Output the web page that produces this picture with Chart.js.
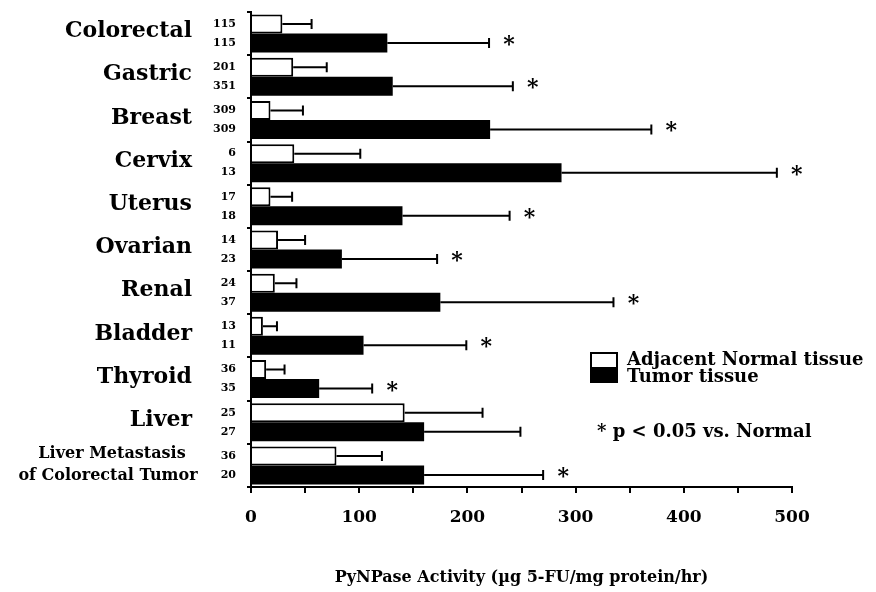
<!DOCTYPE html>
<html>
<head>
<meta charset="utf-8">
<script src="https://cdn.jsdelivr.net/npm/chart.js@4/dist/chart.umd.min.js"></script>
<style>
  html, body { margin: 0; padding: 0; background: #fff; }
  canvas { display: block; }
</style>
</head>
<body>
<canvas id="chartPynpase" width="876" height="592"></canvas>
<script>

// categorias (tipos de tecido)
var categories = [
    'Colorectal', 'Gastric', 'Breast', 'Cervix', 'Uterus', 'Ovarian',
    'Renal', 'Bladder', 'Thyroid', 'Liver',
    ['Liver Metastasis', 'of Colorectal Tumor']
];

// médias e desvios
var normalMean = [29, 39, 18, 40, 18, 25, 22, 11, 14, 142, 79];
var normalSD   = [27, 31, 30, 61, 20, 25, 20, 13, 17, 72, 42];
var tumorMean  = [126, 131, 221, 287, 140, 84, 175, 104, 63, 160, 160];
var tumorSD    = [94, 111, 149, 199, 99, 88, 160, 95, 49, 89, 110];

// número de amostras
var normalN = ['115', '201', '309', '6', '17', '14', '24', '13', '36', '25', '36'];
var tumorN  = ['115', '351', '309', '13', '18', '23', '37', '11', '35', '27', '20'];

// p < 0.05 vs. Normal
var significant = [true, true, true, true, true, true, true, true, true, false, true];

var xMin = 0, xMax = 500, xStep = 50;

var SERIF = '"DejaVu Serif", "Liberation Serif", serif';


// desenha barras de erro, asteriscos, rótulos e legenda
var extras = {
    id: 'extras',
    afterDatasetsDraw: function(chart){
        var ctx = chart.ctx, xs = chart.scales.x, ys = chart.scales.y;
        ctx.save();
        ctx.strokeStyle = '#000';
        ctx.fillStyle = '#000';
        ctx.lineWidth = 2;

        chart.data.datasets.forEach(function(ds, di){
            var meta = chart.getDatasetMeta(di);
            meta.data.forEach(function(bar, i){
                var x1 = xs.getPixelForValue(ds.data[i] + ds.sd[i]);
                ctx.beginPath();
                ctx.moveTo(bar.x, bar.y);
                ctx.lineTo(x1, bar.y);
                ctx.moveTo(x1, bar.y - 5);
                ctx.lineTo(x1, bar.y + 5);
                ctx.stroke();

                if (di === 1 && significant[i]) {
                    ctx.font = 'bold 22px ' + SERIF;
                    ctx.textAlign = 'center';
                    ctx.textBaseline = 'alphabetic';
                    ctx.fillText('*', x1 + 20, bar.y + 8);
                }

                // n
                ctx.font = 'bold 11px ' + SERIF;
                ctx.textAlign = 'right';
                ctx.textBaseline = 'middle';
                ctx.fillText(ds.n[i], 236, bar.y);
            });
        });

        // nomes das categorias
        categories.forEach(function(c, i){
            var y = ys.getPixelForValue(i);
            ctx.textBaseline = 'middle';
            if (Array.isArray(c)) {
                ctx.font = 'bold 16px ' + SERIF;
                ctx.textAlign = 'center';
                ctx.fillText(c[0], 112, y - 12);
                ctx.fillText(c[1], 108, y + 10);
            } else {
                ctx.font = 'bold 22px ' + SERIF;
                ctx.textAlign = 'right';
                ctx.fillText(c, 192, y - 2);
            }
        });

        // legenda
        ctx.lineWidth = 2;
        ctx.strokeRect(591, 353, 26, 15);
        ctx.fillRect(590, 368, 28, 15);
        ctx.font = 'bold 18px ' + SERIF;
        ctx.textAlign = 'left';
        ctx.textBaseline = 'middle';
        ctx.fillText(chart.data.datasets[0].label, 627, 360);
        ctx.fillText(chart.data.datasets[1].label, 627, 377);
        ctx.fillText('* p < 0.05 vs. Normal', 597, 432);

        ctx.restore();
    }
};


var ctx = document.getElementById('chartPynpase').getContext('2d');
var chart = new Chart(ctx, {
    type: 'bar',
    data: {
        labels: categories,
        datasets: [
            {
                label: 'Adjacent Normal tissue',
                data: normalMean,
                sd: normalSD,
                n: normalN,
                backgroundColor: '#fff',
                borderColor: '#000',
                borderWidth: 2,
                categoryPercentage: 0.88,
                barPercentage: 1.0
            },
            {
                label: 'Tumor tissue',
                data: tumorMean,
                sd: tumorSD,
                n: tumorN,
                backgroundColor: '#000',
                borderColor: '#000',
                borderWidth: 0,
                categoryPercentage: 0.88,
                barPercentage: 1.0
            }
        ]
    },
    options: {
        indexAxis: 'y',
        responsive: false,
        animation: false,
        devicePixelRatio: 1,
        layout: { padding: { top: 12, right: 84, bottom: 0, left: 0 } },
        plugins: {
            legend: { display: false },
            tooltip: { enabled: false }
        },
        scales: {
            x: {
                min: xMin,
                max: xMax,
                ticks: {
                    stepSize: xStep,
                    color: '#000',
                    padding: 14,
                    font: { family: SERIF, size: 17, weight: 'bold' },
                    callback: function(v){ return v % 100 === 0 ? v : ''; }
                },
                grid: { drawOnChartArea: false, tickLength: 6, color: '#000', lineWidth: 2 },
                border: { color: '#000', width: 2 },
                title: {
                    display: true,
                    text: 'PyNPase Activity (µg 5-FU/mg protein/hr)',
                    color: '#000',
                    font: { family: SERIF, size: 16, weight: 'bold' },
                    padding: { top: 0, bottom: 5 }
                },
                afterFit: function(s){ s.height = 105; }
            },
            y: {
                ticks: { display: false },
                grid: { drawOnChartArea: false, offset: true, tickLength: 4, color: '#000', lineWidth: 2 },
                border: { color: '#000', width: 2 },
                afterFit: function(s){ s.width = 251; }
            }
        }
    },
    plugins: [extras]
});
</script>
</body>
</html>
